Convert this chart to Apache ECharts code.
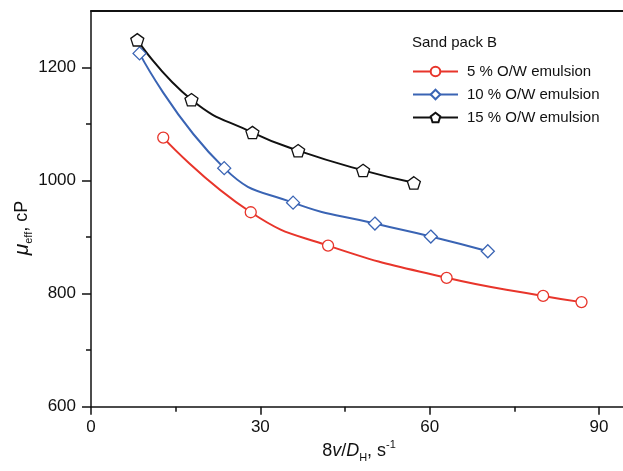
<!DOCTYPE html>
<html><head><meta charset="utf-8">
<script src="https://cdn.jsdelivr.net/npm/echarts@6/dist/echarts.min.js"></script>
<style>html,body{margin:0;padding:0;background:#fff}#c{width:623px;height:471px}</style>
</head><body><div id="c"></div>
<script>
const seriesNames = ['5 % O/W emulsion', '10 % O/W emulsion', '15 % O/W emulsion'];
const shear5 = [12.8, 28.3, 42.0, 63.0, 80.1, 86.9];
const visc5 = [1076, 944, 885, 828, 796, 785];
const shear10 = [8.6, 23.6, 35.8, 50.3, 60.2, 70.3];
const visc10 = [1225, 1022, 961, 924, 901, 875];
const shear15 = [8.2, 17.8, 28.6, 36.7, 48.2, 57.2];
const visc15 = [1249, 1143, 1085, 1053, 1018, 996];
const xTicks = [0, 30, 60, 90];
const xMinorTicks = [15, 45, 75];
const yTicks = [600, 800, 1000, 1200];
const yMinorTicks = [700, 900, 1100];

const FONT = '"Liberation Sans", Arial, sans-serif';
const pentagon = 'path://M0,-10 L9.511,-3.09 L5.878,8.09 L-5.878,8.09 L-9.511,-3.09 Z';
const zip = (a, b) => a.map((v, i) => [v, b[i]]);

const chart = echarts.init(document.getElementById('c'), null, {renderer: 'canvas'});
const X_MAX = 94.25, Y_MIN = 600, Y_MAX = 1300;
const axisBase = {type: 'value', splitLine: {show: false}};
const plain = v => String(v);
chart.setOption({
  animation: false,
  backgroundColor: '#fff',
  grid: {left: 91, right: 0, top: 11, bottom: 64.3, containLabel: false},
  xAxis: [
    Object.assign({}, axisBase, {
      position: 'bottom', min: 0, max: X_MAX,
      axisLine: {show: true, lineStyle: {color: '#111', width: 1.5}},
      axisTick: {show: true, customValues: xTicks, length: 8, inside: false, lineStyle: {color: '#111', width: 1.5}},
      axisLabel: {customValues: xTicks, formatter: plain, fontSize: 17, fontFamily: FONT, color: '#111', margin: 12}
    }),
    Object.assign({}, axisBase, {
      position: 'bottom', min: 0, max: X_MAX,
      axisLine: {show: false},
      axisTick: {show: true, customValues: xMinorTicks, length: 5, inside: false, lineStyle: {color: '#111', width: 1.5}},
      axisLabel: {show: false}
    }),
    Object.assign({}, axisBase, {
      position: 'top', min: 0, max: X_MAX,
      axisLine: {show: true, lineStyle: {color: '#111', width: 2}},
      axisTick: {show: false}, axisLabel: {show: false}
    })
  ],
  yAxis: [
    Object.assign({}, axisBase, {
      position: 'left', min: Y_MIN, max: Y_MAX,
      axisLine: {show: true, lineStyle: {color: '#111', width: 1.5}},
      axisTick: {show: true, customValues: yTicks, length: 9, inside: false, lineStyle: {color: '#111', width: 1.5}},
      axisLabel: {customValues: yTicks, formatter: plain, fontSize: 17, fontFamily: FONT, color: '#111', margin: 15}
    }),
    Object.assign({}, axisBase, {
      position: 'left', min: Y_MIN, max: Y_MAX,
      axisLine: {show: false},
      axisTick: {show: true, customValues: yMinorTicks, length: 5, inside: false, lineStyle: {color: '#111', width: 1.5}},
      axisLabel: {show: false}
    })
  ],
  legend: {
    orient: 'vertical', left: 412, top: 64, padding: 0, itemGap: 8, itemWidth: 45, itemHeight: 12,
    textStyle: {fontSize: 15, fontFamily: FONT, color: '#111', padding: [0, 0, 0, 4]},
    data: seriesNames
  },
  graphic: [
    {type: 'text', x: 412, y: 43, style: {text: 'Sand pack B', fontSize: 15, fontFamily: FONT, fill: '#111', align: 'left', verticalAlign: 'middle', textAlign: 'left', textVerticalAlign: 'middle'}},
    {type: 'text', x: 359, y: 451, style: {
      text: '{n|8}{i|v}{n|/}{i|D}{sub|H}{n|, s}{sup|-1}',
      align: 'center', verticalAlign: 'middle', textAlign: 'center', textVerticalAlign: 'middle', fill: '#111',
      rich: {
        n: {fontSize: 18, fontFamily: FONT, lineHeight: 24},
        i: {fontSize: 18, fontFamily: FONT, fontStyle: 'italic', lineHeight: 24},
        sub: {fontSize: 11, fontFamily: FONT, lineHeight: 12, verticalAlign: 'bottom'},
        sup: {fontSize: 11, fontFamily: FONT, lineHeight: 16, verticalAlign: 'top'}
      }
    }},
    {type: 'text', x: 22, y: 228, rotation: Math.PI / 2, style: {
      text: '{mu|μ}{sub|eff}{n|, cP}',
      align: 'center', verticalAlign: 'middle', textAlign: 'center', textVerticalAlign: 'middle', fill: '#111',
      rich: {
        mu: {fontSize: 21, fontFamily: FONT, fontStyle: 'italic', lineHeight: 24},
        n: {fontSize: 18, fontFamily: FONT, lineHeight: 24},
        sub: {fontSize: 11, fontFamily: FONT, lineHeight: 12, verticalAlign: 'bottom'}
      }
    }}
  ],
  series: [
    {name: seriesNames[0], type: 'line', data: zip(shear5, visc5), smooth: 0.5, symbol: 'circle', symbolSize: 11,
     color: '#e8352b', lineStyle: {width: 2, color: '#e8352b'}, itemStyle: {color: '#fff', borderColor: '#e8352b', borderWidth: 1.3}},
    {name: seriesNames[1], type: 'line', data: zip(shear10, visc10), smooth: 0.5, symbol: 'diamond', symbolSize: 13,
     color: '#3a64b4', lineStyle: {width: 2, color: '#3a64b4'}, itemStyle: {color: '#fff', borderColor: '#3a64b4', borderWidth: 1.3}},
    {name: seriesNames[2], type: 'line', data: zip(shear15, visc15), smooth: 0.5, symbol: pentagon, symbolKeepAspect: true, symbolSize: 13,
     color: '#111', lineStyle: {width: 2, color: '#111'}, itemStyle: {color: '#fff', borderColor: '#111', borderWidth: 1.3}}
  ]
});
</script></body></html>
